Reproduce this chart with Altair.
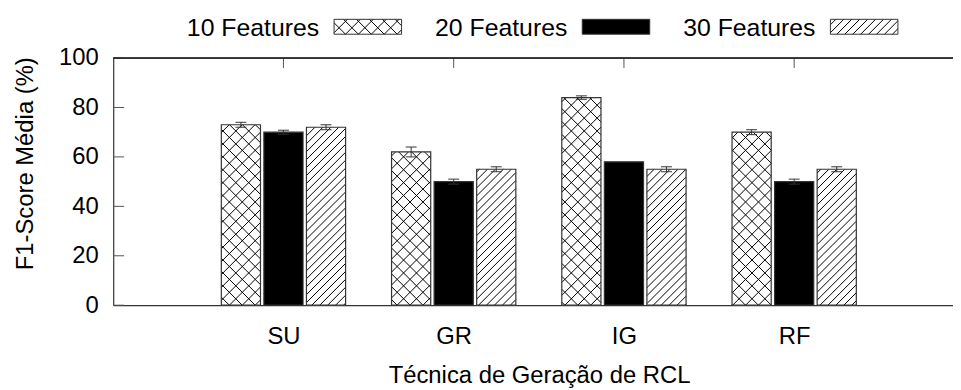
import math
import json
import altair as alt
import pandas as pd

# ---------------- data ----------------
categories = ["SU", "GR", "IG", "RF"]
series = ["10 Features", "20 Features", "30 Features"]
f10 = [73, 62, 84, 70]
f20 = [70, 50, 58, 50]
f30 = [72, 55, 55, 55]
e10 = [1.0, 2.0, 0.7, 1.0]
e20 = [0.8, 1.0, 0.0, 1.0]
e30 = [1.0, 1.0, 1.0, 1.0]
y_ticks = [0, 20, 40, 60, 80, 100]

# ---------------- layout ----------------
W, H = 846, 249
PX = 171.5            # pixels per group unit on x
XMAX = W / PX
YMAX = 100
PY = H / YMAX         # pixels per y unit
OFFSETS = [-0.25, 0.0, 0.25]
HALF = 0.115
FONT = "Liberation Sans"
FS = 24
EDGE = "#333333"
patterns = {"10 Features": ("cross", 13.0), "20 Features": ("solid", 0), "30 Features": ("diag", 8.0)}

xscale = alt.Scale(domain=[0, XMAX], nice=False, zero=False)
yscale = alt.Scale(domain=[0, YMAX], nice=False, zero=True)

label_expr = json.dumps([""] + categories) + "[datum.value]"
xaxis = alt.Axis(values=[1, 2, 3, 4], labelExpr=label_expr, ticks=False, grid=False,
                 domain=True, domainColor=EDGE, domainWidth=1.2,
                 labelFont=FONT, labelFontSize=FS, labelColor="black", labelPadding=20,
                 title="Técnica de Geração de RCL", titleFont=FONT, titleFontSize=FS,
                 titleFontWeight="normal", titleColor="black",
                 titleX=429, titleY=59, titleBaseline="top", titleAlign="center")
yaxis = alt.Axis(values=y_ticks, ticks=False, grid=False, domain=True,
                 domainColor=EDGE, domainWidth=1.2,
                 labelFont=FONT, labelFontSize=FS, labelColor="black", labelPadding=15,
                 title="F1-Score Média (%)", titleFont=FONT, titleFontSize=FS,
                 titleFontWeight="normal", titleColor="black", titleAngle=270,
                 titleX=-81, titleY=106, titleBaseline="alphabetic", titleAlign="center")


def X(field):
    return alt.X(field, scale=xscale, axis=xaxis)


def Y(field):
    return alt.Y(field, scale=yscale, axis=yaxis)


def hatch(x0p, x1p, y0p, y1p, kind, spacing):
    """hatch segments inside a pixel rectangle (y pointing up)"""
    slopes = [1, -1] if kind == "cross" else ([1] if kind == "diag" else [])
    segs = []
    for sgn in slopes:
        if sgn > 0:
            cmin, cmax = y0p - x1p, y1p - x0p
        else:
            cmin, cmax = y0p + x0p, y1p + x1p
        for k in range(math.ceil(cmin / spacing), math.floor(cmax / spacing) + 1):
            c = k * spacing
            if sgn > 0:
                lo, hi = max(x0p, y0p - c), min(x1p, y1p - c)
                if hi - lo > 0.3:
                    segs.append((lo, lo + c, hi, hi + c))
            else:
                lo, hi = max(x0p, c - y1p), min(x1p, c - y0p)
                if hi - lo > 0.3:
                    segs.append((lo, c - lo, hi, c - hi))
    return segs


# bars
rows, hrows = [], []
for s_i, (name, vals, errs) in enumerate(zip(series, [f10, f20, f30], [e10, e20, e30])):
    for c_i, cat in enumerate(categories):
        xc = c_i + 1 + OFFSETS[s_i]
        v, e = vals[c_i], errs[c_i]
        rows.append(dict(series=name, cat=cat, xc=xc, x0=xc - HALF, x1=xc + HALF,
                         base=0, v=v, err=e, lo=v - e, hi=v + e,
                         c0=xc - 5.5 / PX, c1=xc + 5.5 / PX))
        kind, sp = patterns[name]
        for (ax, ay, bx, by) in hatch((xc - HALF) * PX, (xc + HALF) * PX, 0, v * PY, kind, sp):
            hrows.append(dict(hx=ax / PX, hy=ay / PY, hx2=bx / PX, hy2=by / PY))
bars_df = pd.DataFrame(rows)
hatch_df = pd.DataFrame(hrows)
err_df = bars_df[bars_df["err"] > 0]

# legend (pixel layout relative to the plot, converted to data units)
leg_rows, leg_hatch = [], []
for i, name in enumerate(series):
    tx = 207.5 + 250 * i
    sx0, sx1 = 222.5 + 250 * i, 290.5 + 250 * i
    sy_top, sy_bot = H + 39, H + 24  # y up
    leg_rows.append(dict(series=name, tx=tx / PX, ty=(H + 22) / PY,
                         sx0=sx0 / PX, sx1=sx1 / PX, sy0=sy_bot / PY, sy1=sy_top / PY))
    kind, sp = patterns[name]
    for (ax, ay, bx, by) in hatch(sx0, sx1, sy_bot, sy_top, kind, sp):
        leg_hatch.append(dict(hx=ax / PX, hy=ay / PY, hx2=bx / PX, hy2=by / PY))
leg_df = pd.DataFrame(leg_rows)
leg_hatch_df = pd.DataFrame(leg_hatch)

fill_color = alt.Color("series:N", scale=alt.Scale(domain=series, range=["white", "black", "white"]),
                       legend=None)

bar_fill = alt.Chart(bars_df).mark_rect(strokeWidth=0).encode(
    x=X("x0:Q"), x2="x1:Q", y=Y("v:Q"), y2="base:Q", fill=fill_color,
)
hatch_layer = alt.Chart(hatch_df).mark_rule(color="black", strokeWidth=1).encode(
    x=X("hx:Q"), x2="hx2:Q", y=Y("hy:Q"), y2="hy2:Q",
)
bar_outline = alt.Chart(bars_df).mark_rect(filled=False, stroke=EDGE, strokeWidth=1.2).encode(
    x=X("x0:Q"), x2="x1:Q", y=Y("v:Q"), y2="base:Q",
)
err_line = alt.Chart(err_df).mark_rule(color=EDGE, strokeWidth=1).encode(
    x=X("xc:Q"), y=Y("lo:Q"), y2="hi:Q",
)
cap_hi = alt.Chart(err_df).mark_rule(color=EDGE, strokeWidth=1).encode(
    x=X("c0:Q"), x2="c1:Q", y=Y("hi:Q"),
)
cap_lo = alt.Chart(err_df).mark_rule(color=EDGE, strokeWidth=1).encode(
    x=X("c0:Q"), x2="c1:Q", y=Y("lo:Q"),
)

ytick_df = pd.DataFrame({"t": y_ticks})
ytick_layer = alt.Chart(ytick_df).mark_rule(color="#555555", strokeWidth=1).encode(
    y=Y("t:Q"), x=alt.value(0), x2=alt.value(11),
)
xtick_df = pd.DataFrame({"g": [1, 2, 3, 4]})
xtick_layer = alt.Chart(xtick_df).mark_rule(color="#555555", strokeWidth=1).encode(
    x=X("g:Q"), y=alt.value(0), y2=alt.value(10),
)
top_border = alt.Chart(xtick_df).mark_rule(color=EDGE, strokeWidth=1.2).encode(
    x=alt.value(0), x2=alt.value(W), y=alt.value(0),
)

leg_text = alt.Chart(leg_df).mark_text(align="right", baseline="alphabetic", font=FONT,
                                       fontSize=25, color="black").encode(
    x=X("tx:Q"), y=Y("ty:Q"), text="series:N",
)
leg_fill = alt.Chart(leg_df).mark_rect(strokeWidth=0).encode(
    x=X("sx0:Q"), x2="sx1:Q", y=Y("sy0:Q"), y2="sy1:Q", fill=fill_color,
)
leg_hatch_layer = alt.Chart(leg_hatch_df).mark_rule(color="black", strokeWidth=1).encode(
    x=X("hx:Q"), x2="hx2:Q", y=Y("hy:Q"), y2="hy2:Q",
)
leg_outline = alt.Chart(leg_df).mark_rect(filled=False, stroke=EDGE, strokeWidth=1).encode(
    x=X("sx0:Q"), x2="sx1:Q", y=Y("sy0:Q"), y2="sy1:Q",
)

chart = alt.layer(
    bar_fill, hatch_layer, bar_outline, err_line, cap_hi, cap_lo,
    ytick_layer, xtick_layer, top_border,
    leg_fill, leg_hatch_layer, leg_outline, leg_text,
).properties(
    width=W, height=H,
    autosize=alt.AutoSizeParams(type="none"),
    padding={"left": 106, "top": 49, "right": 0, "bottom": 83},
).configure_view(strokeWidth=0)

chart.save("out.html", embed_options={"renderer": "svg", "actions": False})
